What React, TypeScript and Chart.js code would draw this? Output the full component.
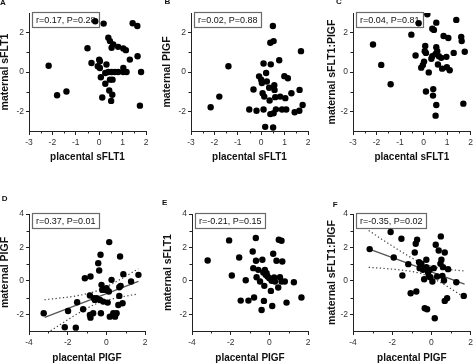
import React, { useEffect, useRef } from "react";
import { Chart, registerables } from "chart.js";
Chart.register(...registerables);

const FONT = "'Liberation Sans', Arial, Helvetica, sans-serif";

// ---------- data ----------
// A: placental sFLT1 vs maternal sFLT1
const aX = [-2.16,-1.8,-1.4,-0.5,-0.33,-0.17,-0.06,0.03,0.03,0.0,0.07,0.13,0.19,0.31,0.26,0.26,0.39,0.46,0.53,0.6,0.43,0.56,0.51,0.46,0.57,0.39,0.53,0.67,0.81,1.03,1.17,0.81,1.03,1.14,1.03,1.31,1.43,1.63,1.64,1.79,1.74];
const aY = [0.32,-1.18,-0.99,1.21,0.46,2.58,0.29,0.2,0.55,0.63,-0.27,-1.3,2.46,0.38,-0.6,-0.05,1.74,1.57,1.23,1.4,-0.94,-1.16,-1.47,-0.39,-0.39,0,0,0,0,0,0,1.28,1.2,1.11,0.2,0.63,2.48,2.34,0.8,0,-1.71];
// B: placental sFLT1 vs maternal PlGF
const bX = [-2.16,-1.79,-1.4,-0.51,-0.33,-0.2,-0.09,0,0.03,0.06,0.1,0.1,0.13,0.17,0.21,0.24,0.34,0.36,0.39,0.41,0.39,0.53,0.5,0.53,0.51,0.56,0.57,0.6,0.63,0.77,0.81,0.89,0.99,1.03,1.07,1.14,1.29,1.43,1.63,1.64,1.7,1.77];
const bY = [-1.79,-1.25,0.29,-1.91,-0.89,-1.97,-0.22,-0.39,-0.56,-1.08,0.43,-1.91,-1.25,-2.79,-0.05,-0.48,-0.8,-1.45,-2.14,0.39,1.49,1.57,2.34,-2.1,-2.82,-0.67,-0.91,-1.28,-1.9,0.6,-1.25,-1.91,-0.21,-1.33,-1.91,-0.32,-1.08,-2.05,-1.97,-0.91,1.06,-1.68];
// C: placental sFLT1 vs maternal sFLT1:PlGF
const cX = [-2.15,-1.8,-1.4,-0.52,-0.34,-0.21,-0.1,-0.03,0.02,0.05,0.07,0.1,0.1,0.16,0.22,0.33,0.37,0.44,0.37,0.41,0.4,0.51,0.54,0.54,0.58,0.54,0.51,0.61,0.65,0.75,0.79,0.85,0.97,0.99,1.05,1.11,1.28,1.39,1.6,1.62,1.75,1.69];
const cY = [1.4,0.36,-0.62,1.9,0.84,2.48,0.22,0.36,0.53,1.06,1.32,0.97,-0.99,2.94,-0.02,0.67,2.2,2.14,0.8,-0.87,-1.2,0.92,1.26,2.51,1.06,-1.68,-2.22,0.38,0.8,0.72,0.17,1.83,0.77,0.24,1.73,0.09,0.97,2.65,1.78,1.57,1.03,-1.61];
// D: placental PlGF vs maternal PlGF
const dX = [-3.24,-2.15,-1.98,-1.58,-1.51,-1.2,-1.11,-0.85,-0.82,-0.85,-0.82,-0.68,-0.64,-0.59,-0.5,-0.42,-0.37,-0.3,-0.33,-0.28,-0.25,-0.21,-0.16,-0.07,0.01,0.07,0.15,0.13,0.18,0.27,0.36,0.45,0.53,0.62,0.67,0.67,0.71,0.74,0.84,0.88,1.28,1.66];
const dY = [-1.94,-2.78,-1.8,-2.8,-1.28,-1.7,0.16,-0.88,0.26,-2.04,-2.2,-1.94,-1.04,-1.14,-1.04,1.06,0.62,1.56,-1.14,-1.94,-0.24,-0.54,-1.24,-0.54,-0.44,-1.3,2.32,-0.64,-2.14,0.06,-1.94,-2.14,-1.94,-1.44,-0.38,-0.9,1.46,-0.3,-1.34,0.4,-0.04,0.36];
const dFitX = [-3.19, 1.66];
const dFitY = [-2.18, -0.03];
const dBandX = [-3.2, -2.5, -1.5, -0.5, 0.5, 1.65];
const dUpper = [-1.13, -1.04, -0.89, -0.6, -0.05, 0.72];
const dLower = [-3.23, -2.7, -1.97, -1.36, -1.03, -0.78];
// E: placental PlGF vs maternal sFLT1
const eX = [-3.19,-2.08,-1.94,-1.56,-1.48,-1.22,-1.08,-0.86,-0.83,-0.79,-0.7,-0.69,-0.66,-0.57,-0.48,-0.4,-0.36,-0.31,-0.26,-0.28,-0.23,-0.19,-0.14,-0.09,0.0,0.08,0.12,0.15,0.2,0.25,0.29,0.37,0.46,0.49,0.55,0.63,0.67,0.63,0.8,0.89,1.27,1.66];
const eY = [1.22,2.42,0.32,1.4,-1.18,0.04,-1.18,1.76,0.76,-1.0,2.56,1.2,0.22,0.66,-0.04,-1.74,1.26,0.5,-0.3,-1.2,0.66,0.36,0.46,0.26,0.16,-0.6,0.0,-1.5,1.62,0.2,-0.04,1.2,-0.4,2.46,0.22,2.4,1.16,-0.04,-0.04,-1.3,-0.08,-1.0];
// F: placental PlGF vs maternal sFLT1:PlGF
const fX = [-3.15,-2.08,-1.92,-1.53,-1.48,-1.18,-1.06,-0.85,-0.8,-0.73,-0.77,-0.63,-0.6,-0.55,-0.51,-0.43,-0.37,-0.34,-0.26,-0.26,-0.22,-0.17,-0.14,-0.09,-0.05,0.05,0.12,0.17,0.22,0.29,0.37,0.46,0.48,0.51,0.56,0.59,0.64,0.68,0.68,0.8,0.85,1.27,1.65];
const fY = [1.9,2.92,1.4,2.52,0.32,1.0,-0.74,1.7,2.22,2.46,-0.64,1.12,0.76,0.9,1.02,0.66,0.1,-1.64,1.26,0.82,-1.7,0.5,0.26,0.66,0.22,-0.04,0.76,-2.24,2.16,0.26,1.82,1.02,2.66,1.26,0.3,0.82,0.02,1.7,-1.2,-1.04,0.7,-0.08,-0.9];
const fFitX = [-3.2, 1.69];
const fFitY = [1.91, -0.2];
const fBandX = [-3.2, -2.5, -1.5, -0.5, 0.5, 1.69];
const fUpper = [3.01, 2.47, 1.72, 1.07, 0.74, 0.59];
const fLower = [0.81, 0.75, 0.64, 0.43, -0.12, -0.99];

// tick values
const topXTicks = [-3, -2, -1, 0, 1, 2];
const topXMinor = [-2.5, -1.5, -0.5, 0.5, 1.5];
const topYTicks = [-2, 0, 2];
const topYMinor = [-1, 1];
const botXTicks = [-4, -2, 0, 2];
const botXMinor = [-3, -1, 1];
const botYTicks = [-2, 0, 2, 4];
const botYMinor = [-1, 1, 3];

const statA = "r=0.17, P=0.28";
const statB = "r=0.02, P=0.88";
const statC = "r=0.04, P=0.81";
const statD = "r=0.37, P=0.01";
const statE = "r=-0.21, P=0.15";
const statF = "r=-0.35, P=0.02";

// ---------- layout ----------
const YW = 29;
type Fit = { x: number[]; y: number[] };
type PanelCfg = {
  letter: string; letterX: number; letterY: number;
  xs: number[]; ys: number[]; stat: string;
  xTitle: string; yTitle: string; yTitlePad: number;
  left: number; right: number; top: number; bottom: number;
  canvasTop: number; canvasH: number; padRight: number;
  xMin: number; xMax: number; yMin: number; yMax: number;
  xTicks: number[]; yTicks: number[]; xMinor: number[]; yMinor: number[];
  fit?: Fit; upper?: Fit; lower?: Fit;
};

const zip = (xs: number[], ys: number[]) => xs.map((x, i) => ({ x, y: ys[i] }));

const top = { canvasTop: 0, canvasH: 162, top: 13, bottom: 131, xMin: -3, xMax: 2, yMin: -3, yMax: 3, xTicks: topXTicks, yTicks: topYTicks, xMinor: topXMinor, yMinor: topYMinor, xTitle: "placental sFLT1" };
const bot = { canvasTop: 180, canvasH: 183, top: 214, bottom: 331, xMin: -4, xMax: 2, yMin: -3, yMax: 4, xTicks: botXTicks, yTicks: botYTicks, xMinor: botXMinor, yMinor: botYMinor, xTitle: "placental PIGF" };

const panels: PanelCfg[] = [
  { ...top, letter: "A", letterX: 0, letterY: 6, xs: aX, ys: aY, stat: statA, yTitle: "maternal sFLT1", yTitlePad: 0, left: 29, right: 146, padRight: 8 },
  { ...top, letter: "B", letterX: 164.5, letterY: 5, xs: bX, ys: bY, stat: statB, yTitle: "maternal PIGF", yTitlePad: 0, left: 191, right: 308, padRight: 8 },
  { ...top, letter: "C", letterX: 336, letterY: 5, xs: cX, ys: cY, stat: statC, yTitle: "maternal sFLT1:PIGF", yTitlePad: 2.5, left: 353, right: 471, padRight: 5 },
  { ...bot, letter: "D", letterX: 1.7, letterY: 201.7, xs: dX, ys: dY, stat: statD, yTitle: "maternal PIGF", yTitlePad: 0, left: 29, right: 145, padRight: 8,
    fit: { x: dFitX, y: dFitY }, upper: { x: dBandX, y: dUpper }, lower: { x: dBandX, y: dLower } },
  { ...bot, letter: "E", letterX: 162, letterY: 206, xs: eX, ys: eY, stat: statE, yTitle: "maternal sFLT1", yTitlePad: 0, left: 192, right: 308, padRight: 8 },
  { ...bot, letter: "F", letterX: 332.7, letterY: 207.3, xs: fX, ys: fY, stat: statF, yTitle: "maternal sFLT1:PIGF", yTitlePad: 2.5, left: 353, right: 471, padRight: 5,
    fit: { x: fFitX, y: fFitY }, upper: { x: fBandX, y: fUpper }, lower: { x: fBandX, y: fLower } },
];

function PanelChart({ cfg }: { cfg: PanelCfg }) {
  const ref = useRef<HTMLCanvasElement>(null);
  const canvasLeft = cfg.left - YW;
  const canvasW = YW + (cfg.right - cfg.left) + cfg.padRight;
  const xh = cfg.canvasTop + cfg.canvasH - cfg.bottom;

  useEffect(() => {
    const datasets: any[] = [
      { data: zip(cfg.xs, cfg.ys), pointRadius: 3.2, pointBackgroundColor: "#000", pointBorderWidth: 0, backgroundColor: "#000", borderWidth: 0, order: 1 },
    ];
    const lineBase = { showLine: true, pointRadius: 0, fill: false, order: 2, cubicInterpolationMode: "monotone" };
    if (cfg.fit) datasets.push({ ...lineBase, data: zip(cfg.fit.x, cfg.fit.y), borderColor: "#555", borderWidth: 1.3 });
    if (cfg.upper) datasets.push({ ...lineBase, data: zip(cfg.upper.x, cfg.upper.y), borderColor: "#444", borderWidth: 1.2, borderDash: [1.3, 2.4] });
    if (cfg.lower) datasets.push({ ...lineBase, data: zip(cfg.lower.x, cfg.lower.y), borderColor: "#444", borderWidth: 1.2, borderDash: [1.3, 2.4] });

    const decor = {
      id: "decor",
      beforeDatasetsDraw(chart: any) {
        const { ctx, chartArea } = chart;
        ctx.save();
        ctx.font = `9px ${FONT}`;
        const tw = ctx.measureText(cfg.stat).width;
        const x = Math.round(chartArea.left + 3) + 0.5;
        const y = Math.round(chartArea.top) - 0.5;
        const w = Math.round(tw + 7);
        const h = 15;
        ctx.fillStyle = "#fff";
        ctx.fillRect(x, y, w, h);
        ctx.strokeStyle = "#6a6a6a";
        ctx.lineWidth = 1.2;
        ctx.strokeRect(x, y, w, h);
        ctx.fillStyle = "#111";
        ctx.textBaseline = "middle";
        ctx.fillText(cfg.stat, x + 3.5, y + h / 2 + 0.5);
        ctx.restore();
      },
      afterDraw(chart: any) {
        const { ctx, chartArea, scales } = chart;
        ctx.save();
        ctx.strokeStyle = "#222";
        ctx.lineWidth = 1;
        ctx.beginPath();
        for (const v of cfg.xMinor) {
          const px = Math.round(scales.x.getPixelForValue(v)) + 0.5;
          ctx.moveTo(px, chartArea.bottom);
          ctx.lineTo(px, chartArea.bottom + 2.5);
        }
        for (const v of cfg.yMinor) {
          const py = Math.round(scales.y.getPixelForValue(v)) + 0.5;
          ctx.moveTo(chartArea.left - 2.5, py);
          ctx.lineTo(chartArea.left, py);
        }
        ctx.stroke();
        ctx.restore();
      },
    };

    const gridOpts = { display: true, drawOnChartArea: false, drawTicks: true, tickLength: 4, color: "#222", lineWidth: 1 };
    const borderOpts = { display: true, color: "#222", width: 1 };
    const tickFont = { size: 8.5, family: FONT };

    const chart = new Chart(ref.current!, {
      type: "scatter",
      data: { datasets },
      options: {
        responsive: false,
        animation: false,
        devicePixelRatio: 1,
        events: [],
        layout: { padding: { top: cfg.top - cfg.canvasTop, left: 0, right: cfg.padRight, bottom: 0 } },
        plugins: { legend: { display: false }, tooltip: { enabled: false } },
        scales: {
          x: {
            type: "linear", min: cfg.xMin, max: cfg.xMax,
            afterBuildTicks: (s: any) => { s.ticks = cfg.xTicks.map((v) => ({ value: v })); },
            afterFit: (s: any) => { s.height = xh; },
            grid: gridOpts, border: borderOpts,
            ticks: { font: tickFont, color: "#333", padding: 3, maxRotation: 0, autoSkip: false },
            title: { display: true, text: cfg.xTitle, color: "#111", font: { size: 10, weight: "bold", family: FONT, lineHeight: 1 }, padding: { top: 0, bottom: 0 } },
          },
          y: {
            type: "linear", min: cfg.yMin, max: cfg.yMax,
            afterBuildTicks: (s: any) => { s.ticks = cfg.yTicks.map((v) => ({ value: v })); },
            afterFit: (s: any) => { s.width = YW; },
            grid: { ...gridOpts, tickLength: 3 }, border: borderOpts,
            ticks: { font: tickFont, color: "#333", padding: 2, autoSkip: false },
            title: { display: true, text: cfg.yTitle, color: "#111", font: { size: 10.5, weight: "bold", family: FONT, lineHeight: 1 }, padding: { top: cfg.yTitlePad, bottom: 0 } },
          },
        },
      } as any,
      plugins: [decor],
    });
    return () => chart.destroy();
  }, []);

  return (
    <canvas
      ref={ref}
      width={canvasW}
      height={cfg.canvasH}
      style={{ position: "absolute", left: canvasLeft, top: cfg.canvasTop, width: canvasW, height: cfg.canvasH, display: "block" }}
    />
  );
}

export default function App() {
  return (
    <div style={{ position: "fixed", left: 0, top: 0, width: 474, height: 363, overflow: "hidden", background: "#fff" }}>
      {panels.map((p) => (
        <PanelChart key={p.letter} cfg={p} />
      ))}
      {panels.map((p) => (
        <div
          key={"L" + p.letter}
          style={{ position: "absolute", left: p.letterX, top: p.letterY - 6.8, font: `bold 8px ${FONT}`, lineHeight: "8px", color: "#111" }}
        >
          {p.letter}
        </div>
      ))}
    </div>
  );
}
